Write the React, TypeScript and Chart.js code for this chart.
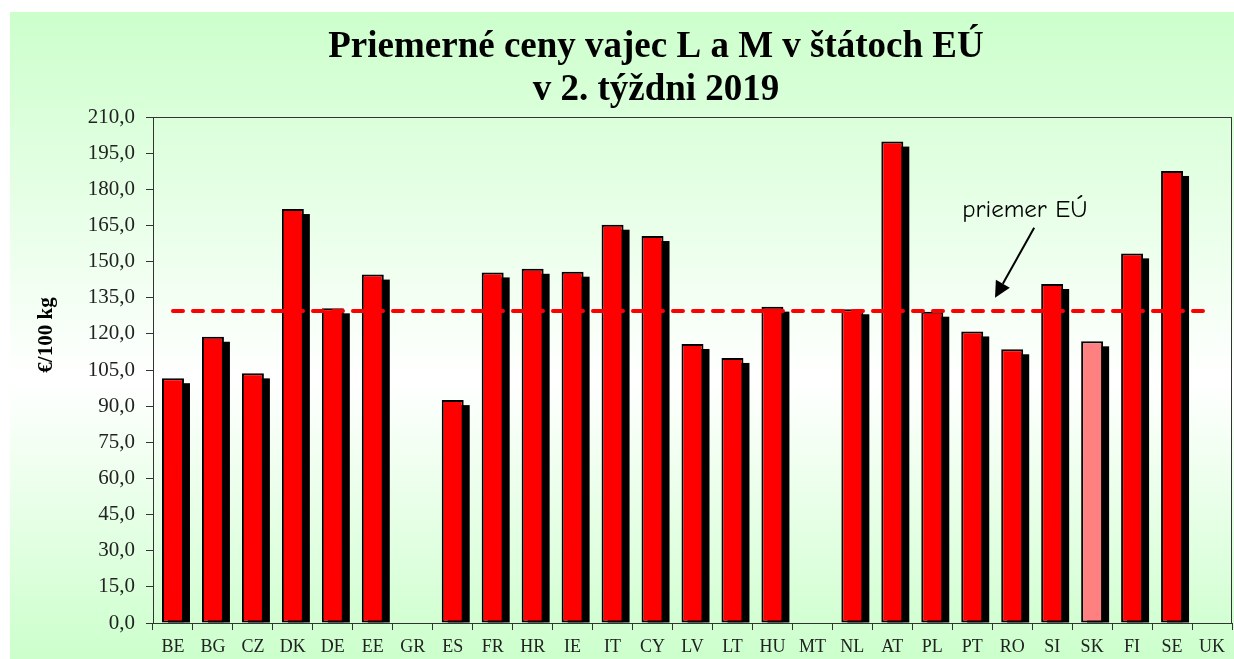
import { useEffect, useRef } from 'react';
import { Chart, registerables } from 'chart.js';

Chart.register(...registerables);

const categories = ['BE', 'BG', 'CZ', 'DK', 'DE', 'EE', 'GR', 'ES', 'FR', 'HR', 'IE', 'IT', 'CY', 'LV', 'LT', 'HU', 'MT', 'NL', 'AT', 'PL', 'PT', 'RO', 'SI', 'SK', 'FI', 'SE', 'UK'];
const prices = [101.6, 118.8, 103.6, 171.8, 130.6, 144.6, null, 92.5, 145.5, 147.0, 145.8, 165.3, 160.6, 115.8, 110.0, 131.3, null, 130.2, 199.8, 129.2, 121.0, 113.6, 140.7, 116.9, 153.4, 187.6, null];
const euAverage = 129.5;
const highlighted = 'SK';
const titleLines = ['Priemerné ceny vajec L a M v štátoch EÚ', 'v 2. týždni 2019'];
const yAxisLabel = '€/100 kg';
const avgLabel = 'priemer EÚ';
const yMin = 0;
const yMax = 210;
const yStep = 15;
// annotation anchor points in data units (category index, value)
const labelAnchor = { x: 19.75, y: 171.4 };
const arrowFrom = { x: 21.55, y: 164 };
const arrowTo = { x: 20.57, y: 135 };

export default function App() {
  const ref = useRef<HTMLCanvasElement>(null);

  useEffect(() => {
    const canvas = ref.current!;

    const bgPlugin = {
      id: 'bgPanel',
      beforeDraw(chart: any) {
        const { ctx, width, height } = chart;
        ctx.save();
        ctx.fillStyle = '#ffffff';
        ctx.fillRect(0, 0, width, height);
        const g = ctx.createLinearGradient(0, 12, 0, height);
        g.addColorStop(0, '#ccffcc');
        g.addColorStop(0.57, '#ffffff');
        g.addColorStop(1, '#ccffcc');
        ctx.fillStyle = g;
        ctx.fillRect(10, 12, width - 10, height - 12);
        ctx.restore();
      },
    };

    const titlePlugin = {
      id: 'mainTitle',
      afterDraw(chart: any) {
        const { ctx } = chart;
        ctx.save();
        ctx.fillStyle = '#000000';
        ctx.font = 'bold 37px "Liberation Serif", "Times New Roman", serif';
        ctx.textAlign = 'center';
        ctx.textBaseline = 'alphabetic';
        ctx.fillText(titleLines[0], 656, 57);
        ctx.fillText(titleLines[1], 656, 100);
        ctx.restore();
      },
    };

    const shadowPlugin = {
      id: 'barShadow',
      beforeDatasetsDraw(chart: any) {
        const { ctx } = chart;
        const meta = chart.getDatasetMeta(0);
        ctx.save();
        ctx.fillStyle = '#000000';
        meta.data.forEach((el: any, i: number) => {
          if (prices[i] == null) return;
          const { x, y, base, width } = el.getProps(['x', 'y', 'base', 'width'], true);
          ctx.fillRect(x - width / 2 + 6, y + 5, width, base - y - 5);
        });
        ctx.restore();
      },
    };

    const framePlugin = {
      id: 'frame',
      afterDatasetsDraw(chart: any) {
        const { ctx, chartArea } = chart;
        ctx.save();
        ctx.strokeStyle = '#333333';
        ctx.lineWidth = 1;
        ctx.strokeRect(chartArea.left + 0.5, chartArea.top + 0.5, chartArea.right - chartArea.left - 1, chartArea.bottom - chartArea.top);
        ctx.restore();
      },
    };

    const annotationPlugin = {
      id: 'avgAnnotation',
      afterDatasetsDraw(chart: any) {
        const { ctx } = chart;
        const xs = chart.scales.x;
        const ys = chart.scales.y;
        ctx.save();
        ctx.fillStyle = '#000000';
        ctx.font = '25px "Comic Sans MS", "Comic Neue", "Noto Sans", sans-serif';
        ctx.textBaseline = 'middle';
        ctx.textAlign = 'left';
        ctx.fillText(avgLabel, xs.getPixelForValue(labelAnchor.x), ys.getPixelForValue(labelAnchor.y));

        const x1 = xs.getPixelForValue(arrowFrom.x);
        const y1 = ys.getPixelForValue(arrowFrom.y);
        const x2 = xs.getPixelForValue(arrowTo.x);
        const y2 = ys.getPixelForValue(arrowTo.y);
        const ang = Math.atan2(y2 - y1, x2 - x1);
        const headLen = 16;
        const headW = 8;
        const bx = x2 - headLen * Math.cos(ang);
        const by = y2 - headLen * Math.sin(ang);
        ctx.strokeStyle = '#000000';
        ctx.lineWidth = 2;
        ctx.beginPath();
        ctx.moveTo(x1, y1);
        ctx.lineTo(bx, by);
        ctx.stroke();
        ctx.beginPath();
        ctx.moveTo(x2, y2);
        ctx.lineTo(bx + headW * Math.sin(ang), by - headW * Math.cos(ang));
        ctx.lineTo(bx - headW * Math.sin(ang), by + headW * Math.cos(ang));
        ctx.closePath();
        ctx.fill();
        ctx.restore();
      },
    };

    const yLabelPlugin = {
      id: 'yLabel',
      afterDraw(chart: any) {
        const { ctx } = chart;
        ctx.save();
        ctx.translate(47, 335);
        ctx.rotate(-Math.PI / 2);
        ctx.fillStyle = '#000000';
        ctx.font = 'bold 21px "Liberation Serif", "Times New Roman", serif';
        ctx.textAlign = 'center';
        ctx.textBaseline = 'middle';
        ctx.fillText(yAxisLabel, 0, 0);
        ctx.restore();
      },
    };

    const chart = new Chart(canvas, {
      type: 'bar',
      data: {
        labels: categories,
        datasets: [
          {
            type: 'bar',
            label: 'cena',
            data: prices,
            backgroundColor: categories.map((c) => (c === highlighted ? '#ff8080' : '#ff0000')),
            borderColor: '#000000',
            borderWidth: 2,
            borderSkipped: false,
            barPercentage: 0.55,
            categoryPercentage: 1.0,
            order: 1,
          } as any,
          {
            type: 'line',
            label: 'priemer EÚ',
            data: categories.map(() => euAverage),
            borderColor: '#ff0000',
            borderWidth: 4,
            borderDash: [10, 10],
            borderCapStyle: 'round',
            pointRadius: 0,
            fill: false,
            order: 0,
          } as any,
        ],
      },
      options: {
        responsive: false,
        animation: false,
        layout: { padding: { left: 0, right: 2, top: 117, bottom: 0 } },
        plugins: {
          legend: { display: false },
          tooltip: { enabled: false },
          title: { display: false },
        },
        scales: {
          x: {
            border: { display: false },
            grid: { display: true, drawOnChartArea: false, drawTicks: true, tickLength: 7, color: '#333333', offset: true },
            ticks: {
              color: '#222222',
              padding: 6,
              maxRotation: 0,
              autoSkip: false,
              font: { family: '"Liberation Serif", "Times New Roman", serif', size: 18 },
            },
            afterFit: (scale: any) => {
              scale.height = 36;
            },
          },
          y: {
            min: yMin,
            max: yMax,
            border: { display: false },
            grid: { display: true, drawOnChartArea: false, drawTicks: true, tickLength: 7, color: '#333333' },
            ticks: {
              stepSize: yStep,
              color: '#222222',
              padding: 11,
              font: { family: '"Liberation Serif", "Times New Roman", serif', size: 21 },
              callback: (v: any) => Number(v).toFixed(1).replace('.', ','),
            },
            afterFit: (scale: any) => {
              scale.width = 153;
            },
          },
        },
      },
      plugins: [bgPlugin, shadowPlugin, framePlugin, annotationPlugin, yLabelPlugin, titlePlugin],
    });

    return () => chart.destroy();
  }, []);

  return (
    <div style={{ position: 'absolute', left: 0, top: 0, width: 1234, height: 659, background: '#ffffff' }}>
      <canvas ref={ref} width={1234} height={659} style={{ display: 'block' }} />
    </div>
  );
}
